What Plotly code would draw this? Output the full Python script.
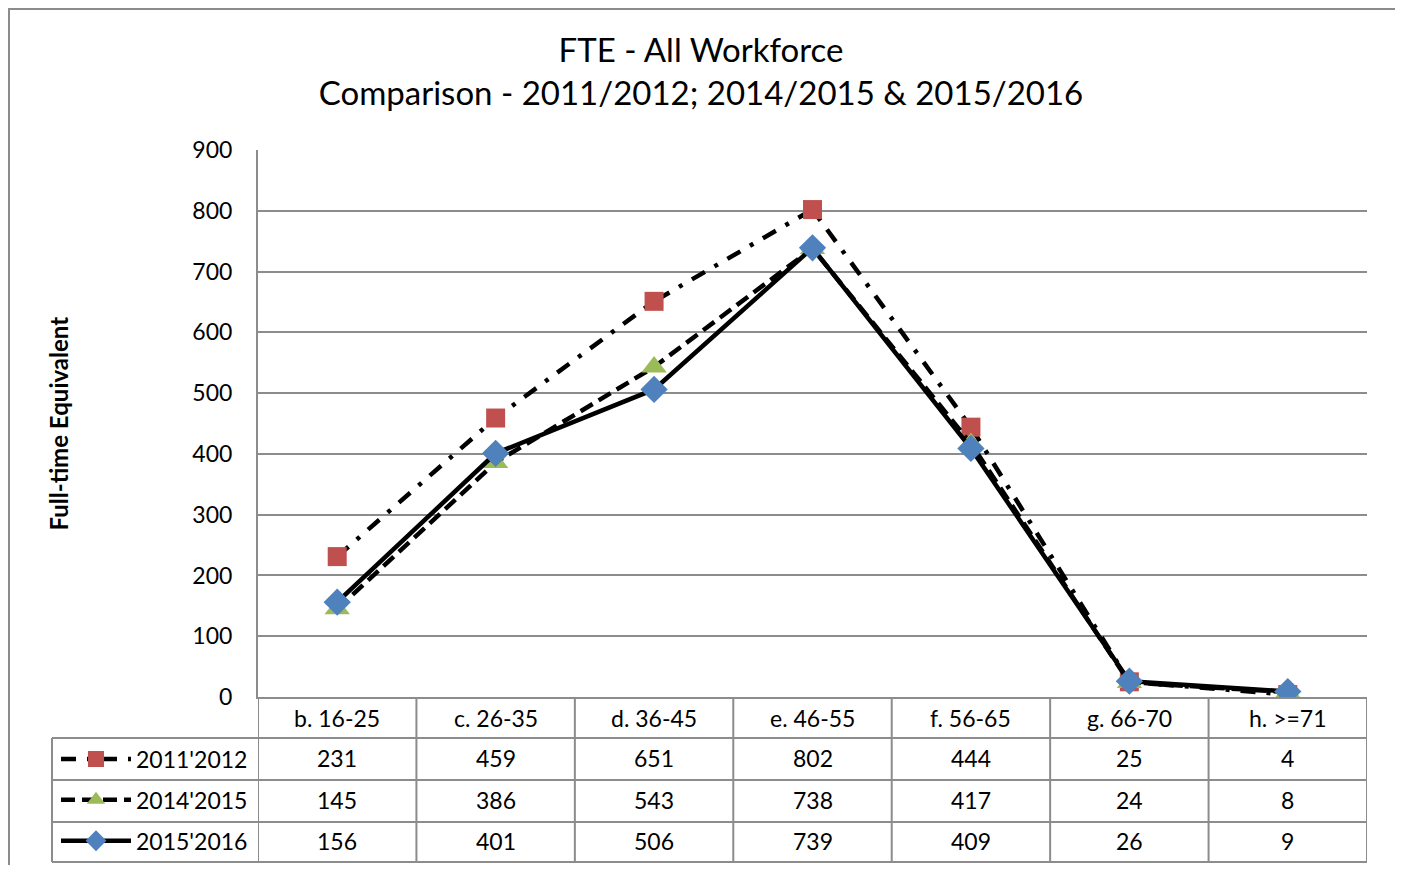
import plotly.graph_objects as go

# Данные
categories = ["b. 16-25", "c. 26-35", "d. 36-45", "e. 46-55", "f. 56-65", "g. 66-70", "h. >=71"]
series_names = ["2011'2012", "2014'2015", "2015'2016"]
fte_2011 = [231, 459, 651, 802, 444, 25, 4]
fte_2014 = [145, 386, 543, 738, 417, 24, 8]
fte_2015 = [156, 401, 506, 739, 409, 26, 9]

# страница имеет отступ 8px, поэтому фигура чуть меньше окна
OFF = 8
W, H = 1403 - 2 * OFF, 873 - 2 * OFF
FONT = "Lato"
GRID = "#8c8c8c"


def px_x(p):
    return (p - OFF) / W


def px_y(p):
    return 1 - (p - OFF) / H


xpos = list(range(len(categories)))

fig = go.Figure()

styles = [
    dict(dash="15px,11px,4px,11px", symbol="square", color="#C0504D", size=19),
    dict(dash="14px,7px", symbol="triangle-up", color="#9BBB59", size=22),
    dict(dash="solid", symbol="diamond", color="#4F81BD", size=21),
]

for name, vals, st in zip(series_names, [fte_2011, fte_2014, fte_2015], styles):
    fig.add_trace(go.Scatter(
        x=xpos, y=vals, mode="lines+markers", name=name, legendgroup=name,
        line=dict(color="black", width=4.5, dash=st["dash"]),
        marker=dict(symbol=st["symbol"], color=st["color"], size=st["size"],
                    line=dict(width=0)),
    ))

# Таблица данных под графиком
row_y = [758, 800, 841]
cell_font = dict(size=23, color="black", family=FONT)
for cat_i, cat in enumerate(categories):
    fig.add_annotation(x=cat_i, y=px_y(718), xref="x", yref="paper", text=cat,
                       xanchor="center", yanchor="middle", showarrow=False, font=cell_font)
for vals, ry in zip([fte_2011, fte_2014, fte_2015], row_y):
    for cat_i, v in enumerate(vals):
        fig.add_annotation(x=cat_i, y=px_y(ry), xref="x", yref="paper", text=str(v),
                           xanchor="center", yanchor="middle", showarrow=False, font=cell_font)

line_kw = dict(color=GRID, width=2)
for hy in [738, 780, 822, 862]:
    fig.add_shape(type="line", xref="paper", yref="paper", x0=px_x(52), x1=px_x(1367),
                  y0=px_y(hy), y1=px_y(hy), line=line_kw)
for k in range(len(categories) + 1):
    fig.add_shape(type="line", xref="x", yref="paper", x0=k - 0.5, x1=k - 0.5,
                  y0=px_y(697), y1=px_y(862), line=line_kw)
fig.add_shape(type="line", xref="paper", yref="paper", x0=px_x(52), x1=px_x(52),
              y0=px_y(738), y1=px_y(862), line=line_kw)

# Рамка диаграммы
fig.add_shape(type="rect", xref="paper", yref="paper", x0=px_x(9), x1=px_x(1396),
              y0=-0.05, y1=px_y(9), line=dict(color=GRID, width=2))

fig.add_annotation(x=px_x(58), y=0.5, xref="paper", yref="y domain", text="<b>Full-time Equivalent</b>",
                   xanchor="center", yanchor="middle", textangle=-90, showarrow=False,
                   font=dict(size=24, color="black", family=FONT))

fig.update_layout(
    width=W, height=H,
    margin=dict(l=0, r=0, t=0, b=0, autoexpand=False),
    paper_bgcolor="white", plot_bgcolor="white",
    font=dict(family=FONT, color="black"),
    title=dict(text="FTE - All Workforce<br>Comparison - 2011/2012; 2014/2015 & 2015/2016",
               x=px_x(701), xanchor="center", y=px_y(62), yanchor="middle", yref="paper",
               font=dict(size=33, family=FONT, color="black")),
    xaxis=dict(domain=[px_x(258), px_x(1367)], range=[-0.5, 6.5], showticklabels=False,
               showgrid=False, zeroline=False, showline=True, linecolor=GRID, linewidth=2),
    yaxis=dict(domain=[px_y(697), px_y(150)], range=[0, 900], dtick=100,
               showgrid=True, gridcolor=GRID, gridwidth=2, zeroline=False,
               showline=True, linecolor=GRID, linewidth=2,
               ticks="", ticklabelstandoff=19, tickfont=dict(size=23, family=FONT)),
    legend=dict(x=px_x(56), xanchor="left", y=px_y(800), yanchor="middle",
                traceorder="grouped", tracegroupgap=8, itemwidth=70,
                font=dict(size=23, family=FONT), bgcolor="rgba(0,0,0,0)"),
    showlegend=True,
)

fig.write_html("out.html")
